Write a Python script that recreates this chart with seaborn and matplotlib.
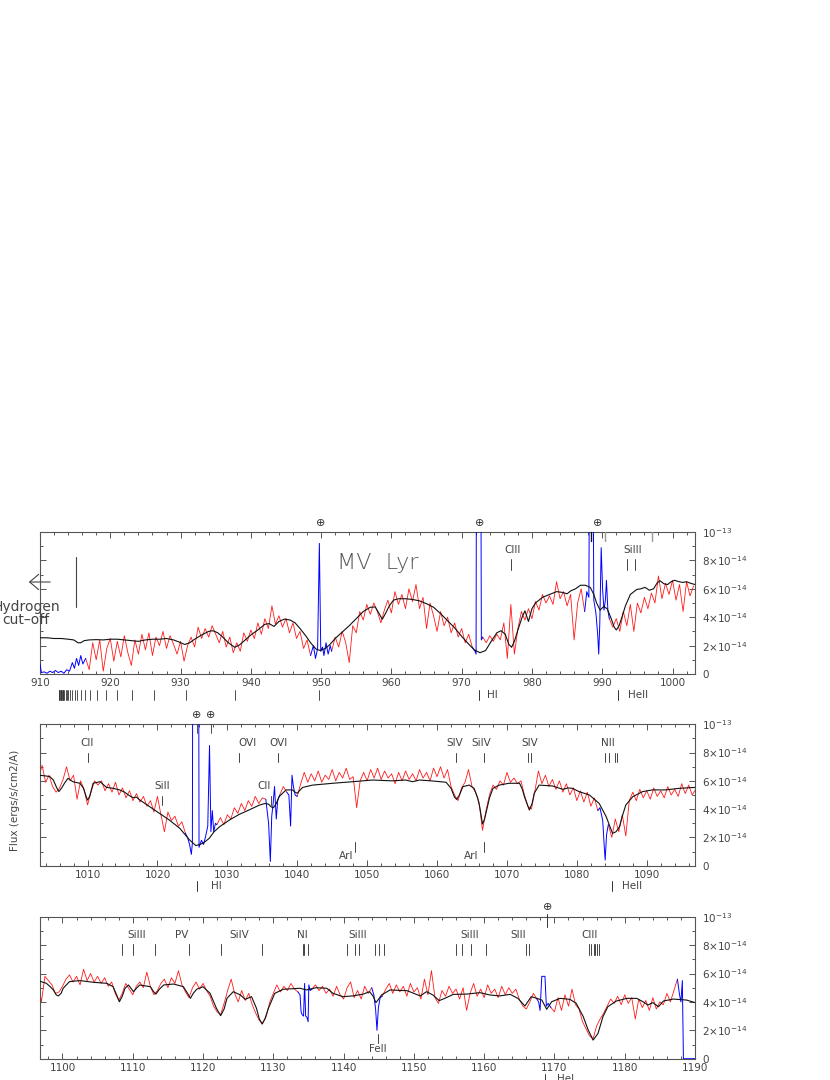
import numpy as np
import pandas as pd
import matplotlib
matplotlib.use("Agg")
import matplotlib.pyplot as plt
import seaborn as sns
from matplotlib.ticker import MultipleLocator, FixedLocator
from matplotlib.transforms import blended_transform_factory

# ---------------- data (flux in units of 1e-14 ergs/s/cm2/A) ----------------
nan = np.nan
# observed spectrum (red), 0.5 A sampling, NaN where the blue (airglow) segments are drawn
red1_start = 916.5
red1_flux = [1.1, 0.3, 2.2, 1.0, 2.4, 0.2, 1.8, 2.5, 0.9, 2.3, 1.2, 2.7, 1.5, 0.6, 2.4, 1.4, 2.8, 1.7, 2.9, 1.3,
             2.6, 2.0, 3.0, 1.8, 2.7, 2.1, 1.4, 2.3, 0.9, 2.0, 2.6, 1.9, 3.3, 2.5, 3.2, 2.6, 3.4, 2.8, 2.2, 3.0,
             1.9, 2.6, 1.5, 2.2, 1.6, 2.9, 2.3, 3.1, 2.5, 3.6, 2.8, 3.9, 3.2, 4.8, 3.5, 4.1, 3.3, 3.9, 2.9, 3.6,
             2.5, 3.0, 1.8, 2.4, 1.3,
             nan, nan, nan, nan, nan,
             1.6, 2.6, 1.9, 3.0, 2.2, 0.8, 3.4, 2.9, 4.4, 3.8, 4.9, 4.2, 5.0, 4.4, 3.6, 4.5, 5.2, 4.3, 5.8, 4.9,
             5.6, 4.6, 6.0, 5.1, 6.3, 4.6, 5.4, 3.2, 5.0, 4.1, 3.0, 4.4, 3.4, 4.0, 2.9, 3.6, 2.6, 3.2, 2.2, 2.8,
             1.9,
             nan, nan,
             2.6, 2.2, 2.7, 2.3, 2.8, 2.4, 3.6, 1.1, 4.9, 1.4, 3.2, 4.4, 3.8, 4.6, 3.9, 5.1, 4.5, 5.6, 5.0, 5.5,
             4.9, 6.5, 5.3, 5.8, 4.8, 5.6, 2.4, 5.0, 6.0, 4.4,
             nan, nan, nan, nan, nan, nan,
             3.9, 3.3, 3.9, 3.0, 4.4, 3.4, 4.9, 3.0, 5.0, 4.3, 5.4, 4.6, 5.7, 5.0, 6.9, 5.3, 6.4, 5.6, 6.6, 5.2,
             6.3, 4.4, 6.5, 5.5, 6.2]

red2_start = 1003.0
red2_flux = [6.2, 7.1, 5.9, 6.4, 5.6, 5.2, 5.5, 6.1, 7.0, 6.0, 6.4, 4.7, 6.0, 5.4, 4.3, 5.2, 6.0, 5.7, 6.0, 5.3,
             5.8, 5.2, 5.9, 5.0, 5.5, 4.8, 5.3, 4.6, 5.1, 4.5, 4.9, 4.2, 4.6, 3.8, 4.9, 3.6, 2.4, 3.8, 3.2, 3.5,
             2.8, 3.1, 2.3,
             nan, nan, nan, nan, nan, nan, nan, nan,
             2.9, 3.4, 2.9, 3.6, 3.3, 4.1, 3.7, 4.4, 3.9, 4.6, 4.2, 4.9, 4.4, 4.8, 4.7,
             nan, nan, nan,
             5.0, 5.6, 5.2,
             nan, nan,
             4.9, 5.8, 6.6, 5.9, 6.5, 6.0, 6.7, 5.9, 6.4, 6.1, 6.8, 6.0, 6.6, 6.2, 6.9, 6.1, 6.3, 4.1, 6.0, 6.6,
             6.0, 6.8, 6.2, 6.9, 6.1, 6.7, 6.2, 6.5, 5.8, 6.6, 6.0, 6.7, 6.1, 6.5, 6.0, 6.8, 6.2, 6.6, 6.0, 6.9,
             6.3, 7.0, 6.2, 6.8, 5.6, 5.0, 4.6, 5.5, 5.9, 6.8, 5.6, 5.2, 4.5, 2.5, 3.9, 5.0, 5.7, 5.4, 6.0, 5.7,
             6.6, 5.9, 6.2, 5.8, 6.0, 5.0, 4.2, 4.0, 5.3, 6.7, 5.8, 6.4, 5.6, 6.1, 5.4, 6.0, 5.2, 5.8, 5.0, 5.5,
             4.6, 5.3, 4.5, 5.2, 4.2, 4.8, 3.9,
             nan, nan,
             2.9, 2.0, 3.3, 2.4, 3.6, 2.1, 4.6, 5.2, 4.6, 5.4, 4.8, 5.3, 4.7, 5.5, 4.9, 5.3, 4.8, 5.6, 5.0, 5.4,
             4.9, 5.8, 5.1, 5.7, 5.0, 5.4]

red3_start = 1096.5
red3_flux = [5.5, 4.0, 5.8, 5.5, 5.2, 4.6, 4.7, 5.1, 5.6, 5.9, 5.4, 5.8, 5.2, 6.3, 5.5, 6.0, 5.4, 5.8, 5.3, 5.7,
             5.1, 5.4, 4.6, 4.1, 4.6, 5.3, 4.9, 4.5, 5.1, 5.4, 5.0, 6.1, 5.1, 4.5, 4.8, 5.3, 5.6, 5.0, 5.7, 5.3,
             6.2, 5.2, 4.7, 4.3, 5.0, 5.4, 4.9, 5.3, 4.8, 4.4, 3.7, 3.3, 3.1, 3.9, 4.8, 5.6, 4.6, 4.0, 4.8, 4.1,
             4.6, 3.8, 3.2, 2.7, 2.5, 3.0, 4.0, 4.6, 5.2, 4.7, 5.1, 4.8, 5.3, 4.9, 4.7,
             nan, nan, nan,
             4.9, 5.2, 4.8, 5.1, 4.6, 4.9, 4.4, 5.1, 4.5, 4.2, 5.0, 5.4, 4.3, 4.8, 4.2, 5.1, 4.6, 5.0,
             nan, nan,
             4.4, 4.9, 5.3, 4.6, 5.2, 4.7, 5.1, 4.4, 5.3, 4.7, 5.0, 4.2, 5.6, 4.5, 6.2, 4.3, 3.9, 4.8, 4.4, 5.1,
             4.6, 4.9, 4.2, 5.0, 3.4, 4.6, 5.3, 4.4, 4.9, 4.3, 5.2, 4.6, 4.9, 4.3, 5.1, 4.5, 5.0, 4.6, 4.9, 4.2,
             3.7, 3.5, 4.0, 4.6, 4.2,
             nan, nan, nan,
             3.6, 3.3, 4.3, 3.4, 4.5, 3.7, 4.9, 3.8, 3.5, 2.6, 2.1, 1.6, 1.4, 2.3, 2.8, 3.2, 3.7, 4.2, 3.9, 4.4,
             3.8, 4.5, 3.9, 4.3, 2.8, 4.2, 3.6, 4.1, 3.4, 4.3, 3.5, 4.0, 3.8, 4.6, 4.0, 4.8, 5.6]

# airglow / contaminated segments (blue)
blue1a_wave = [910.0, 910.2, 910.6, 911.0, 911.4, 911.8, 912.2, 912.6, 913.0, 913.4, 913.8, 914.2, 914.6, 914.9,
               915.2, 915.5, 915.8, 916.1, 916.5]
blue1a_flux = [0.7, 0.1, 0.15, 0.05, 0.2, 0.1, 0.25, 0.1, 0.2, 0.05, 0.3, 0.2, 0.8, 0.4, 1.1, 0.6, 1.3, 0.7, 1.1]
blue1b_wave = [948.5, 948.9, 949.2, 949.5, 949.75, 949.95, 950.2, 950.4, 950.7, 951.0, 951.3, 951.5]
blue1b_flux = [1.3, 2.0, 1.1, 1.8, 9.2, 1.6, 1.9, 1.3, 2.2, 1.4, 2.0, 1.6]
blue1c_wave = [971.5, 971.9, 972.05, 972.15, 972.65, 972.8, 973.0]
blue1c_flux = [1.9, 1.6, 1.4, 30.0, 30.0, 2.4, 2.6]
blue1d_wave = [987.5, 987.8, 988.1, 988.3, 988.55, 988.8, 989.1, 989.35, 989.5, 989.65, 989.85, 990.05, 990.25,
               990.45, 990.6, 990.8, 991.0]
blue1d_flux = [4.4, 5.8, 5.4, 30.0, 30.0, 5.2, 4.3, 2.8, 1.4, 3.5, 8.9, 6.0, 4.5, 5.2, 6.6, 4.5, 3.9]

blue2a_wave = [1024.0, 1024.3, 1024.6, 1024.85, 1025.0, 1025.1, 1025.85, 1025.95, 1026.3, 1026.6, 1026.9, 1027.2,
               1027.45, 1027.65, 1027.85, 1028.05, 1028.3, 1028.5]
blue2a_flux = [2.3, 2.0, 1.5, 0.8, 1.6, 30.0, 30.0, 1.3, 1.8, 1.5, 2.1, 2.8, 8.5, 2.4, 3.9, 2.4, 3.0, 2.9]
blue2b_wave = [1035.5, 1035.9, 1036.15, 1036.35, 1036.55, 1036.75, 1036.9, 1037.0, 1037.2, 1037.5]
blue2b_flux = [4.7, 3.0, 0.3, 3.5, 4.4, 5.6, 4.2, 3.3, 4.6, 5.0]
blue2c_wave = [1038.5, 1038.8, 1039.05, 1039.25, 1039.45, 1039.7, 1040.0]
blue2c_flux = [5.2, 5.0, 2.8, 6.4, 5.6, 5.0, 4.9]
blue2d_wave = [1083.0, 1083.3, 1083.7, 1083.9, 1084.05, 1084.25, 1084.5]
blue2d_flux = [3.9, 4.1, 3.2, 1.5, 0.4, 2.2, 2.9]

blue3a_wave = [1133.5, 1133.8, 1133.95, 1134.1, 1134.3, 1134.45, 1134.6, 1134.8, 1134.95, 1135.05, 1135.25, 1135.5]
blue3a_flux = [4.7, 4.5, 3.3, 3.1, 3.0, 5.3, 3.0, 2.9, 2.6, 5.2, 4.8, 4.9]
blue3b_wave = [1144.0, 1144.3, 1144.55, 1144.75, 1144.95, 1145.2, 1145.5]
blue3b_flux = [5.0, 4.5, 3.5, 2.0, 3.6, 4.3, 4.4]
blue3c_wave = [1167.5, 1167.75, 1167.95, 1168.2, 1168.65, 1168.85, 1169.1, 1169.5]
blue3c_flux = [4.2, 4.0, 3.4, 5.8, 5.8, 3.7, 3.9, 3.6]
blue3d_wave = [1187.5, 1187.8, 1188.0, 1188.2, 1188.35, 1190.0]
blue3d_flux = [5.6, 4.5, 4.0, 5.5, 0.0, 0.0]

# synthetic model spectrum (black)
model1_wave = [910, 911, 912, 913, 914, 914.8, 915.4, 915.8, 916.3, 917, 918, 919, 920, 921, 922, 923, 924, 925, 926,
               927, 928, 929, 929.8, 930.6, 931.3, 932, 933, 934, 934.6, 935.3, 936, 936.8, 937.7, 938.4, 939.2, 940,
               941, 942, 942.6, 943.3, 944, 944.8, 945.6, 946.3, 947, 947.8, 948.5, 949.3, 949.9, 950.6, 951.2, 952,
               953, 954, 955, 956, 957, 957.7, 958.2, 958.7, 959.2, 959.7, 960.3, 961, 962, 963, 964, 965, 966, 967,
               968, 969, 970, 971, 971.8, 972.6, 973.4, 974.2, 975, 975.6, 976.2, 976.7, 977.1, 977.5, 978, 978.6,
               979, 979.5, 980, 980.5, 981.5, 982.5, 983.5, 984.3, 985, 985.5, 986.2, 986.9, 987.6, 988.3, 988.8,
               989.2, 989.7, 990.2, 990.7, 991.2, 991.7, 992.0, 992.4, 992.8, 993.3, 994, 994.9, 995.5, 996.1, 996.7,
               997.3, 997.8, 998.2, 998.8, 999.3, 999.8, 1000.3, 1000.9, 1001.5, 1002, 1002.5, 1003.2]
model1_flux = [2.55, 2.55, 2.5, 2.5, 2.45, 2.4, 2.2, 2.2, 2.35, 2.4, 2.42, 2.4, 2.45, 2.45, 2.4, 2.35, 2.3, 2.4, 2.45,
               2.45, 2.5, 2.4, 2.25, 2.08, 2.2, 2.45, 2.75, 3.0, 3.05, 2.9, 2.6, 2.2, 1.88, 2.05, 2.4, 2.75,
               3.1, 3.5, 3.55, 3.35, 3.7, 3.87, 3.8, 3.6, 3.2, 2.7, 2.2, 1.75, 1.65, 1.8, 2.05, 2.5,
               2.95, 3.4, 3.9, 4.4, 4.7, 4.72, 4.3, 3.85, 4.3, 4.8, 5.2, 5.3, 5.3, 5.25, 5.15, 4.95, 4.7, 4.25,
               3.75, 3.25, 2.65, 2.1, 1.7, 1.5, 1.65, 2.3, 2.9, 3.05, 2.8, 2.1, 1.88, 2.3, 3.1, 4.0,
               4.45, 3.7, 4.6, 5.0, 5.4, 5.6, 5.8, 5.75, 5.65, 5.85, 6.0, 6.25, 6.25, 6.1, 5.6,
               5.0, 4.5, 4.75, 4.6, 4.0, 3.3, 3.1, 3.4, 4.0, 4.8, 5.6, 5.95, 6.0, 6.1, 5.9,
               6.0, 6.4, 6.57, 6.35, 6.3, 6.5, 6.6, 6.5, 6.45, 6.5, 6.4, 6.3]

model2_wave = [1003.0, 1004.0, 1004.6, 1005.1, 1005.6, 1005.9, 1006.3, 1006.7, 1007.2, 1007.9, 1008.9, 1009.4, 1009.8,
               1010.0, 1010.3, 1010.8, 1011.8, 1012.7, 1013.7, 1014.6, 1015.3, 1016.0, 1016.5, 1017.0, 1017.5, 1018.9,
               1020.3, 1021.7, 1023.2, 1024.6, 1025.5, 1026.5, 1027.4, 1028.1, 1028.9, 1030.3, 1031.7, 1033.1, 1034.6,
               1035.4, 1035.9, 1036.3, 1036.6, 1037.0, 1037.4, 1038.4, 1039.3, 1039.7, 1040.0, 1040.4, 1040.8, 1042.2,
               1045.1, 1047.9, 1050.8, 1053.6, 1055.5, 1056.5, 1057.5, 1059.4, 1061.3, 1062.0, 1062.5, 1062.8, 1063.2,
               1063.7, 1064.6, 1065.3, 1065.8, 1066.1, 1066.5, 1066.8, 1067.1, 1067.5, 1068.0, 1068.9, 1070.3, 1071.8,
               1072.2, 1072.5, 1073.2, 1073.6, 1073.9, 1074.6, 1076.5, 1078.0, 1078.7, 1079.4, 1080.3, 1081.8, 1083.2,
               1084.2, 1085.1, 1085.6, 1086.1, 1086.5, 1087.0, 1088.0, 1089.4, 1090.8, 1092.7, 1094.6, 1097.0]
model2_flux = [6.4, 6.35, 6.3, 6.07, 5.5, 5.24, 5.5, 5.83, 6.18, 5.94, 5.83, 5.5, 4.9,
               4.64, 4.9, 5.83, 5.94, 5.54, 5.47, 5.36, 5.2, 4.95, 4.81, 4.85, 4.64, 4.17,
               3.7, 3.23, 2.64, 1.82, 1.42, 1.58, 1.93, 2.4, 2.76, 3.23, 3.63, 3.94, 4.29,
               4.4, 4.35, 4.15, 4.1, 4.4, 4.88, 5.36, 5.36, 5.2, 5.12, 5.35, 5.54, 5.7,
               5.83, 5.94, 6.06, 6.0, 6.06, 5.94, 6.06, 5.99, 5.9, 5.47, 4.85, 4.69, 5.0,
               5.59, 5.7, 5.47, 4.8, 4.17, 2.95, 3.3, 3.94, 4.8, 5.47, 5.7, 5.83, 5.83,
               5.4, 4.88, 3.94, 4.4, 5.12, 5.7, 5.64, 5.4, 5.5, 5.47, 5.24, 5.0, 4.4,
               3.46, 2.29, 2.4, 2.76, 3.5, 4.29, 4.88, 5.24, 5.36, 5.36, 5.47, 5.54]

model3_wave = [1096.5, 1097.7, 1098.3, 1098.7, 1099.1, 1099.4, 1099.8, 1100.1, 1101.0, 1102.5, 1104.4, 1106.3, 1107.2,
               1107.7, 1108.1, 1108.5, 1108.9, 1109.4, 1110.1, 1110.6, 1111.0, 1112.5, 1113.0, 1113.3, 1113.8, 1114.4,
               1115.8, 1117.2, 1117.8, 1118.2, 1118.6, 1119.1, 1120.0, 1121.0, 1121.9, 1122.5, 1123.0, 1123.4, 1124.3,
               1125.3, 1126.0, 1126.9, 1127.6, 1128.0, 1128.4, 1128.8, 1129.3, 1130.2, 1131.4, 1133.8, 1134.7, 1136.1,
               1137.6, 1138.5, 1139.9, 1141.3, 1142.8, 1143.7, 1144.2, 1144.6, 1145.0, 1145.4, 1146.6, 1149.0, 1149.4,
               1150.9, 1151.8, 1152.7, 1153.6, 1154.4, 1155.6, 1157.5, 1159.4, 1160.8, 1162.2, 1163.7, 1164.8, 1165.8,
               1166.7, 1167.5, 1168.2, 1168.9, 1169.6, 1170.8, 1172.2, 1173.1, 1174.1, 1174.8, 1175.5, 1176.2, 1176.9,
               1177.6, 1178.8, 1180.3, 1181.7, 1182.6, 1183.3, 1184.0, 1184.8, 1185.5, 1186.9, 1188.8, 1190.0]
model3_flux = [5.5, 5.31, 5.05, 4.84, 4.5, 4.42, 4.6, 4.96, 5.43, 5.5, 5.38, 5.31, 5.07,
               4.5, 4.01, 4.4, 4.96, 5.19, 4.72, 5.0, 5.19, 5.07, 4.7, 4.55, 4.9, 5.19,
               5.26, 5.07, 4.6, 4.25, 4.6, 4.89, 5.07, 4.6, 3.55, 3.03, 3.5, 4.25, 4.72,
               4.49, 4.18, 4.37, 3.55, 2.8, 2.44, 2.8, 3.55, 4.6, 4.89, 4.96, 4.84, 5.0,
               4.96, 4.6, 4.37, 4.42, 4.55, 4.72, 4.4, 3.95, 4.2, 4.49, 4.84, 4.79, 4.72,
               4.42, 4.72, 4.49, 4.09, 4.25, 4.53, 4.55, 4.65, 4.49, 4.42, 4.53, 4.25, 3.71,
               4.37, 4.25, 4.13, 3.48, 4.01, 4.25, 4.18, 3.9, 2.96, 2.02, 1.31, 1.78, 2.96,
               3.66, 4.06, 4.25, 4.25, 4.01, 3.78, 3.95, 3.66, 4.06, 4.2, 4.13, 3.95]

# line identifications: (label, label wavelength, tick wavelengths)
ions1_upper = [("CIII", 977.3, [977.0]), ("SiIII", 994.3, [993.5, 994.7])]
ions2_upper = [("CII", 1010.0, [1010.05]), ("OVI", 1032.9, [1031.6]), ("OVI", 1037.3, [1037.3]),
               ("SIV", 1062.6, [1062.65]), ("SiIV", 1066.3, [1066.65]), ("SIV", 1073.3, [1073.0, 1073.5]),
               ("NII", 1084.5, [1084.0, 1084.6, 1085.5, 1085.7])]
ions2_middle = [("SiII", 1020.7, [1020.7]), ("CII", 1035.3, [1036.3])]
ions2_lower = [("ArI", 1047.0, [1048.2]), ("ArI", 1064.9, [1066.65])]
ions3_upper = [("SiIII", 1110.6, [1108.4, 1109.97, 1113.23]), ("PV", 1117.0, [1117.98]),
               ("SiIV", 1125.1, [1122.5, 1128.33]), ("NI", 1134.1, [1134.17, 1134.42, 1134.98]),
               ("SiIII", 1142.0, [1140.5, 1141.6, 1142.2, 1144.4, 1145.0, 1145.7]),
               ("SiIII", 1157.9, [1155.96, 1156.78, 1158.1, 1160.25]), ("SIII", 1164.9, [1166.0, 1166.4]),
               ("CIII", 1175.0, [1174.93, 1175.26, 1175.59, 1175.71, 1175.99, 1176.37])]
ions3_lower = [("FeII", 1144.9, [1144.9])]
earth1 = [949.9, 972.6, 989.3]
earth2 = [1025.6, 1027.6]
earth3 = [1169.0]
lyman_series = [949.74, 937.80, 930.75, 926.23, 923.15, 920.96, 919.35, 918.13, 917.18, 916.43, 915.82, 915.33,
                914.92, 914.58, 914.29, 914.04, 913.83, 913.64, 913.48, 913.34, 913.21, 913.10, 913.00, 912.92,
                912.84, 912.77, 912.70]
below1 = [("HI", 972.5, 974.4), ("HeII", 992.3, 995.1)]
below2 = [("HI", 1025.7, 1028.4), ("HeII", 1085.0, 1087.9)]
below3 = [("HeI", 1168.7, 1171.6)]
yticks_vals = [0, 2, 4, 6, 8, 10]
yticks_labels = ["0", r"$2{\times}10^{-14}$", r"$4{\times}10^{-14}$", r"$6{\times}10^{-14}$",
                 r"$8{\times}10^{-14}$", r"$10^{-13}$"]

# ---------------- drawing ----------------
sns.set_theme(style="white")
plt.rcParams["font.family"] = ["DejaVu Sans"]
TXT = "#444444"

W, H = 830, 1080
fig = plt.figure(figsize=(W / 100, H / 100), dpi=100)
fig.patch.set_facecolor("white")


def rect(left, top, right, bottom):
    return [left / W, 1 - bottom / H, (right - left) / W, (bottom - top) / H]


def draw_line(ax, wave, flux, color, lw, z):
    df = pd.DataFrame({"wave": np.asarray(wave, float), "flux": np.asarray(flux, float)})
    df["seg"] = df["flux"].isna().cumsum()
    df = df.dropna()
    sns.lineplot(data=df, x="wave", y="flux", units="seg", estimator=None, sort=False,
                 color=color, lw=lw, ax=ax, legend=False, zorder=z)


def red_wave(start, flux):
    return start + 0.5 * np.arange(len(flux))


panels = [
    dict(r=rect(40, 532, 695, 674), xlim=(910, 1003.2), red=(red1_start, red1_flux),
         blues=[(blue1a_wave, blue1a_flux), (blue1b_wave, blue1b_flux), (blue1c_wave, blue1c_flux),
                (blue1d_wave, blue1d_flux)],
         model=(model1_wave, model1_flux), earth=earth1, below=below1),
    dict(r=rect(40, 724.3, 695, 865.7), xlim=(1003.2, 1096.9), red=(red2_start, red2_flux),
         blues=[(blue2a_wave, blue2a_flux), (blue2b_wave, blue2b_flux), (blue2c_wave, blue2c_flux),
                (blue2d_wave, blue2d_flux)],
         model=(model2_wave, model2_flux), earth=earth2, below=below2),
    dict(r=rect(40, 916.7, 695, 1058.7), xlim=(1096.8, 1190), red=(red3_start, red3_flux),
         blues=[(blue3a_wave, blue3a_flux), (blue3b_wave, blue3b_flux), (blue3c_wave, blue3c_flux),
                (blue3d_wave, blue3d_flux)],
         model=(model3_wave, model3_flux), earth=earth3, below=below3),
]

axes = []
for p in panels:
    ax = fig.add_axes(p["r"])
    axes.append(ax)
    start, flux = p["red"]
    draw_line(ax, red_wave(start, flux), flux, "#ff1a1a", 0.6, 2)
    for bw, bf in p["blues"]:
        draw_line(ax, bw, bf, "#0000ff", 0.7, 3)
    draw_line(ax, p["model"][0], p["model"][1], "#111111", 0.8, 4)

    ax.set_xlim(*p["xlim"])
    ax.set_ylim(0, 10)
    ax.set_xlabel("")
    ax.set_ylabel("")
    ax.set_facecolor("white")
    for s in ax.spines.values():
        s.set_color("#555555")
        s.set_linewidth(0.8)
        s.set_visible(True)
    ax.xaxis.set_major_locator(MultipleLocator(10))
    ax.xaxis.set_minor_locator(MultipleLocator(2))
    ax.yaxis.set_major_locator(FixedLocator(yticks_vals))
    ax.yaxis.set_minor_locator(MultipleLocator(1))
    ax.set_yticklabels(yticks_labels)
    ax.xaxis.set_major_formatter(matplotlib.ticker.FuncFormatter(lambda v, pos: f"{v:.0f}"))
    ax.tick_params(which="both", direction="in", top=True, bottom=True, left=True, right=True,
                   labelleft=False, labelright=True, colors="#555555", labelcolor=TXT, labelsize=7.5,
                   width=0.7)
    ax.tick_params(which="major", length=4, pad=3)
    ax.tick_params(which="minor", length=2.5)
    ax.tick_params(axis="y", which="major", pad=5)

    trans = ax.get_xaxis_transform()
    hpx = p["r"][3] * H
    for e in p["earth"]:
        ax.text(e, 1 + 9.5 / hpx, "\u2295", transform=trans, ha="center", va="center", fontsize=8,
                color="#333333", clip_on=False)
    for lab, tx, lx in p["below"]:
        ax.plot([tx, tx], [-15.5 / hpx, -25.5 / hpx], transform=trans, color="#333333", lw=0.7,
                clip_on=False)
        ax.text(lx, -20.5 / hpx, lab, transform=trans, ha="center", va="center", fontsize=7.5,
                color=TXT, clip_on=False)


def ion_marks(ax, ions, y_lab, y0, y1):
    for lab, lx, ticks in ions:
        ax.text(lx, y_lab, lab, ha="center", va="center", fontsize=7.5, color=TXT)
        for t in ticks:
            ax.plot([t, t], [y0, y1], color="#444444", lw=0.7)


ax1, ax2, ax3 = axes
ion_marks(ax1, ions1_upper, 8.7, 7.32, 8.1)
ion_marks(ax2, ions2_upper, 8.7, 7.33, 7.97)
ion_marks(ax2, ions2_middle, 5.64, 4.29, 4.95)
ion_marks(ax2, ions2_lower, 0.69, 0.99, 1.7)
ion_marks(ax3, ions3_upper, 8.71, 7.3, 8.08)
ion_marks(ax3, ions3_lower, 0.68, 1.1, 1.74)

# Lyman series marks below the first panel
trans1 = ax1.get_xaxis_transform()
h1 = panels[0]["r"][3] * H
for lam in lyman_series:
    ax1.plot([lam, lam], [-15.5 / h1, -25.5 / h1], transform=trans1, color="#333333", lw=0.6, clip_on=False)

# short marks at the top of the first panel and under the earth symbols
for lam, col in [(988.4, "#111111"), (990.4, "#999999"), (997.1, "#999999")]:
    ax1.plot([lam, lam], [10, 9.35], color=col, lw=1.0, clip_on=False, zorder=5)
for lam in earth2:
    ax2.plot([lam, lam], [10, 9.4], color="#333333", lw=0.6, clip_on=False, zorder=5)
for lam in earth3:
    ax3.plot([lam, lam], [10.2, 9.3], color="#333333", lw=0.7, clip_on=False, zorder=5)

# hydrogen cut-off marker
ax1.plot([915.1, 915.1], [4.74, 8.26], color="#444444", lw=0.8)
fig.patches.append(matplotlib.patches.FancyArrowPatch(
    (53, H - 582), (26, H - 582), transform=None, arrowstyle="->,head_length=0.65,head_width=0.55",
    mutation_scale=10, color="#444444", lw=0.8))
fig.text(26 / W, 1 - 606.7 / H, "Hydrogen", ha="center", va="center", fontsize=10, color=TXT)
fig.text(26 / W, 1 - 619.5 / H, "cut\u2013off", ha="center", va="center", fontsize=10, color=TXT)

# object name
fig.text(337 / W, 1 - 569 / H, "MV  Lyr", ha="left", va="baseline", fontsize=16, color="#555555",
         fontweight="light")

# y axis label
fig.text(15 / W, 1 - 800 / H, "Flux (ergs/s/cm2/A)", rotation=90, ha="center", va="center",
         fontsize=7.5, color=TXT)

fig.savefig("out.png", dpi=100, facecolor="white")
